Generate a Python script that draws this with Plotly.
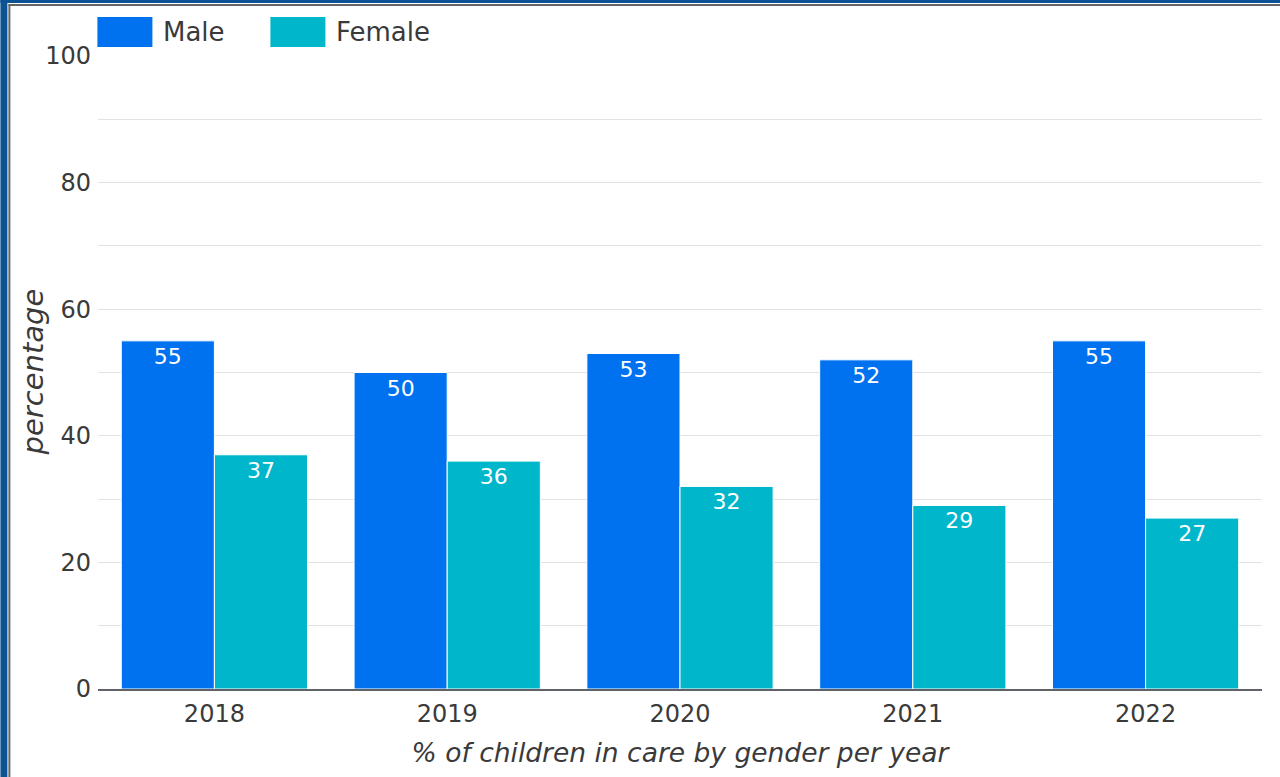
import plotly.graph_objects as go

years = ["2018", "2019", "2020", "2021", "2022"]
series_names = ["Male", "Female"]
male = [55, 50, 53, 52, 55]
female = [37, 36, 32, 29, 27]
colors = ["#0072F0", "#00B6CB"]
y_title = "percentage"
x_title = "% of children in care by gender per year"

W, H = 1280, 777
ML, MR, MT, MB = 97.6, 18.4, 56, 88
PW, PH = W - ML - MR, H - MT - MB

def px(x):
    return (x - ML) / PW

def py(y):
    return (H - MB - y) / PH

FONT = "DejaVu Sans"
TXT = "#3a3a3a"

fig = go.Figure()
for name, vals, col in zip(series_names, [male, female], colors):
    fig.add_trace(go.Bar(
        x=years, y=vals, name=name,
        marker=dict(color=col, line=dict(color="white", width=1)),
        text=vals, textposition="inside", insidetextanchor="end",
        textfont=dict(color="white", size=22, family=FONT),
        textangle=0, showlegend=False,
    ))

# frame decorations
shapes = [
    dict(type="rect", xref="paper", yref="paper", x0=px(0), x1=px(7), y0=py(H), y1=py(0),
         fillcolor="#0B5394", line_width=0, layer="above"),
    dict(type="rect", xref="paper", yref="paper", x0=px(0), x1=px(W), y0=py(3), y1=py(0),
         fillcolor="#0B5394", line_width=0, layer="above"),
    dict(type="rect", xref="paper", yref="paper", x0=px(8), x1=px(10), y0=py(H), y1=py(4),
         fillcolor="#666666", line_width=0, layer="above"),
    dict(type="rect", xref="paper", yref="paper", x0=px(8), x1=px(W), y0=py(6), y1=py(4),
         fillcolor="#666666", line_width=0, layer="above"),
]
# legend swatches
leg_x = [97, 270]
annotations = []
for i, (name, col) in enumerate(zip(series_names, colors)):
    shapes.append(dict(type="rect", xref="paper", yref="paper",
                       x0=px(leg_x[i]), x1=px(leg_x[i] + 55), y0=py(47), y1=py(17),
                       fillcolor=col, line_width=0))
    annotations.append(dict(xref="paper", yref="paper", x=px(leg_x[i] + 64), y=py(32),
                            xanchor="left", yanchor="middle", text=name, showarrow=False,
                            font=dict(size=26, family=FONT, color=TXT)))
# y axis title
annotations.append(dict(xref="paper", yref="paper", x=px(33), y=py(372), textangle=-90,
                        xanchor="center", yanchor="middle", text=y_title, showarrow=False,
                        font=dict(size=29, family=FONT, color=TXT, style="italic")))

fig.update_layout(
    width=W, height=H,
    margin=dict(l=ML, r=MR, t=MT, b=MB, autoexpand=False),
    paper_bgcolor="white", plot_bgcolor="white",
    barmode="group", bargap=0.2, bargroupgap=0,
    font=dict(family=FONT, color=TXT),
    shapes=shapes, annotations=annotations,
    showlegend=False,
    xaxis=dict(
        showline=True, linecolor="#5f6368", linewidth=2,
        tickfont=dict(size=24, color=TXT), ticklabelstandoff=2,
        title=dict(text=x_title, font=dict(size=26.5, color=TXT, style="italic"), standoff=17),
        automargin=False,
    ),
    yaxis=dict(
        range=[0, 100], dtick=20, showgrid=True, gridcolor="#e2e2e2", gridwidth=1,
        minor=dict(dtick=10, showgrid=True, gridcolor="#e2e2e2", gridwidth=1),
        zeroline=False, tickfont=dict(size=24, color=TXT), ticklabelstandoff=6,
        automargin=False,
    ),
)

fig.write_html(
    "out.html",
    config={"displayModeBar": False},
    post_script="document.body.style.margin='0';document.body.style.overflow='hidden';",
)
